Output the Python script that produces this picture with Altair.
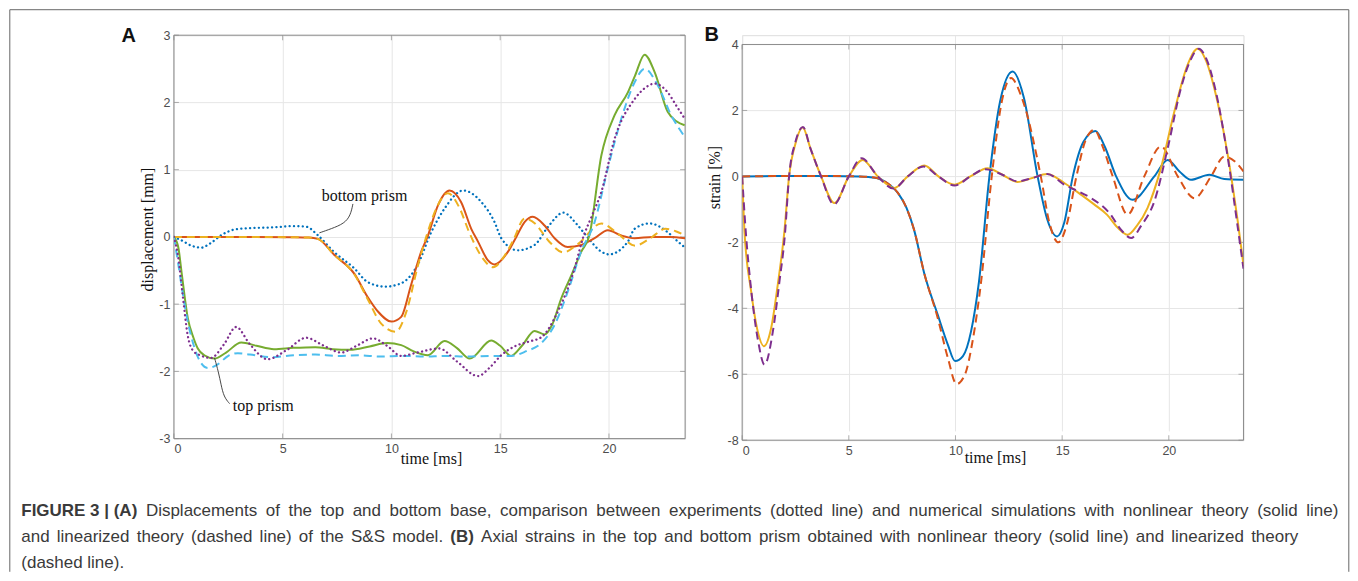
import altair as alt
import pandas as pd

# ---------------- Panel A : displacement [mm] ----------------
A_xticks = [0, 5, 10, 15, 20]
A_yticks = [-3, -2, -1, 0, 1, 2, 3]

# experiment, bottom prism (blue dotted)
A_exp_bot_t = [0, 0.4, 0.8, 1.25, 1.7, 2.2, 2.8, 3.5, 4.5, 5.5, 6.1, 6.6, 7.35, 8.3, 8.9, 9.7, 10.45, 11.2, 11.83,
               12.44, 13.3, 14.13, 14.74, 15.05, 15.8, 16.58, 17.2, 17.9, 18.57, 19.0, 19.65, 20.0, 20.87, 21.18,
               21.87, 22.7, 23.17, 23.5]
A_exp_bot_v = [0, -0.06, -0.13, -0.16, -0.09, 0.03, 0.11, 0.13, 0.14, 0.16, 0.15, 0.03, -0.22, -0.47, -0.67, -0.74,
               -0.69, -0.42, 0.07, 0.42, 0.69, 0.52, 0.22, -0.02, -0.2, -0.12, 0.15, 0.36, 0.17, 0.0, -0.22, -0.26,
               -0.07, 0.12, 0.2, 0.07, -0.07, -0.16]

# nonlinear theory, bottom prism (orange solid)
A_nl_bot_t = [0, 3, 5.5, 6.2, 6.62, 7.38, 8.3, 8.9, 9.38, 10.0, 10.45, 10.9, 11.37, 11.68, 12.14, 12.67, 13.2, 13.67,
              13.98, 14.44, 14.74, 15.36, 15.74, 16.12, 16.5, 17.04, 17.5, 18.1, 18.73, 19.34, 19.95, 20.57, 21.18,
              22.0, 22.8, 23.5]
A_nl_bot_v = [0, 0, -0.005, -0.01, -0.03, -0.27, -0.55, -0.89, -1.11, -1.26, -1.19, -0.72, -0.22, 0.02, 0.47, 0.69,
              0.52, 0.12, -0.07, -0.35, -0.41, -0.22, 0.0, 0.22, 0.3, 0.17, -0.02, -0.15, -0.12, -0.02, 0.1, 0.02,
              -0.02, 0.0, 0.0, -0.02]

# linearized theory, bottom prism (yellow dashed)
A_lin_bot_t = [0, 3, 5.5, 6.2, 6.62, 7.38, 8.3, 8.9, 9.53, 10.2, 10.7, 11.2, 11.6, 12.1, 12.6, 13.1, 13.6, 14.2,
               14.67, 15.2, 15.6, 16.12, 16.6, 17.2, 17.9, 18.6, 19.65, 20.4, 21.2, 21.9, 22.6, 23.1, 23.5]
A_lin_bot_v = [0, 0, -0.005, -0.01, -0.03, -0.27, -0.56, -0.92, -1.29, -1.41, -1.1, -0.45, 0.0, 0.45, 0.65, 0.45,
               0.05, -0.32, -0.45, -0.28, -0.05, 0.27, 0.2, -0.05, -0.23, -0.1, 0.2, 0.05, -0.13, -0.02, 0.12, 0.08,
               0.02]

# nonlinear theory, top prism (green solid)
A_nl_top_t = [0, 0.2, 0.37, 0.64, 0.9, 1.1, 1.4, 1.87, 2.4, 3.1, 3.8, 4.6, 5.5, 6.5, 7.3, 8.1, 9.0, 9.8, 10.45, 11.0,
              11.68, 12.44, 13.0, 13.6, 14.59, 15.0, 15.5, 16.0, 16.58, 17.04, 17.4, 17.8, 18.3, 18.73, 19.1, 19.65,
              20.26, 20.87, 21.2, 21.64, 22.1, 22.7, 23.1, 23.48]
A_nl_top_v = [0, -0.15, -0.57, -1.21, -1.5, -1.66, -1.76, -1.81, -1.72, -1.57, -1.62, -1.67, -1.65, -1.64, -1.67,
              -1.68, -1.63, -1.58, -1.61, -1.7, -1.76, -1.55, -1.65, -1.81, -1.54, -1.62, -1.77, -1.62, -1.40, -1.45,
              -1.3, -0.92, -0.55, -0.22, 0.02, 1.21, 1.81, 2.15, 2.4, 2.71, 2.45, 1.86, 1.72, 1.66]

# linearized theory, top prism (light blue dashed)
A_lin_top_t = [0, 0.2, 0.35, 0.6, 0.9, 1.2, 1.56, 2.0, 2.5, 2.94, 3.5, 4.5, 5.5, 6.5, 7.5, 8.5, 9.5, 10.5, 11.5, 12.5,
               13.5, 14.5, 15.5, 16.2, 16.89, 17.5, 18.1, 18.73, 19.34, 19.94, 20.57, 21.18, 21.64, 22.25, 22.86,
               23.48]
A_lin_top_v = [0, -0.4, -0.72, -1.2, -1.6, -1.85, -1.95, -1.9, -1.77, -1.73, -1.75, -1.79, -1.76, -1.75, -1.77,
               -1.76, -1.78, -1.77, -1.78, -1.77, -1.78, -1.77, -1.77, -1.7, -1.58, -1.31, -0.82, -0.21, 0.22, 1.01,
               1.76, 2.3, 2.5, 2.25, 1.81, 1.49]

# experiment, top prism (purple dotted)
A_exp_top_t = [0, 0.2, 0.4, 0.64, 0.9, 1.2, 1.7, 2.3, 2.86, 3.5, 4.3, 5.2, 6.08, 6.9, 7.69, 8.4, 9.15, 9.8, 10.45,
               11.2, 12.2, 13.0, 13.98, 14.5, 15.05, 15.65, 16.3, 16.9, 17.65, 18.42, 18.8, 19.2, 19.65, 20.26, 21.18,
               21.6, 22.1, 22.7, 23.1, 23.48]
A_exp_top_v = [0, -0.3, -0.85, -1.47, -1.7, -1.76, -1.8, -1.6, -1.34, -1.6, -1.82, -1.68, -1.5, -1.62, -1.72, -1.62,
               -1.51, -1.62, -1.77, -1.72, -1.66, -1.85, -2.07, -1.95, -1.76, -1.63, -1.56, -1.49, -1.11, -0.47, -0.02,
               0.3, 0.67, 1.46, 2.05, 2.2, 2.28, 2.15, 1.95, 1.76]

# annotation leader lines (data units)
A_lead_bottom_t = [8.23, 8.12, 7.84, 7.23, 6.69]
A_lead_bottom_v = [0.49, 0.32, 0.2, 0.12, 0.06]
A_lead_top_t = [1.87, 2.05, 2.17, 2.3, 2.56]
A_lead_top_v = [-1.80, -2.01, -2.2, -2.38, -2.48]

# ---------------- Panel B : strain [%] ----------------
B_xticks = [0, 5, 10, 15, 20]
B_yticks = [-8, -6, -4, -2, 0, 2, 4]

# nonlinear, bottom prism (blue solid)
B_nl_bot_t = [0, 2, 4, 5.5, 6.3, 6.8, 7.3, 7.7, 8.05, 8.54, 9.17, 9.64, 9.98, 10.35, 10.73, 11.1, 11.59, 12.1, 12.68,
              13.2, 13.85, 14.3, 14.76, 15.1, 15.5, 16.0, 16.56, 17.0, 17.53, 18.3, 19.32, 19.95, 20.5, 21.04, 21.9,
              22.6, 23.5]
B_nl_bot_v = [0, 0.01, 0.01, 0.0, -0.05, -0.2, -0.5, -0.95, -1.6, -2.95, -4.2, -5.1, -5.6, -5.45, -4.7, -3.2, 0.0,
              2.3, 3.18, 2.4, 0.0, -1.3, -1.82, -1.4, 0.0, 1.05, 1.38, 0.9, 0.0, -0.71, 0.0, 0.5, 0.15, -0.1, 0.05,
              -0.08, -0.1]

# linearized, bottom prism (orange dashed)
B_lin_bot_t = [0, 2, 4, 5.5, 6.3, 6.8, 7.3, 7.7, 8.05, 8.54, 9.17, 9.64, 10.05, 10.45, 10.8, 11.2, 11.7, 12.15, 12.6,
               13.1, 14.0, 14.4, 14.82, 15.2, 15.67, 16.1, 16.51, 16.9, 17.37, 18.07, 18.85, 19.63, 20.42, 21.2, 21.98,
               22.6, 23.1, 23.5]
B_lin_bot_v = [0, 0.01, 0.01, 0.0, -0.05, -0.2, -0.5, -0.95, -1.6, -2.95, -4.3, -5.5, -6.3, -6.0, -5.0, -3.2, 0.0,
               2.2, 2.98, 2.4, 0.0, -1.4, -2.0, -1.5, 0.0, 1.1, 1.41, 0.9, 0.0, -1.16, 0.0, 0.91, 0.0, -0.66, 0.0, 0.6,
               0.45, 0.15]

# nonlinear, top prism (yellow solid)
B_nl_top_t = [0, 0.11, 0.42, 0.73, 1.02, 1.36, 1.67, 1.98, 2.2, 2.5, 2.84, 3.2, 3.7, 4.33, 5.0, 5.65, 6.36, 7.14,
              7.76, 8.54, 9.2, 9.95, 10.7, 11.5, 12.2, 12.9, 13.6, 14.3, 15.1, 15.9, 16.5, 17.1, 17.6, 18.07, 18.5,
              19.0, 19.63, 20.26, 20.88, 21.35, 21.75, 22.13, 22.76, 23.23, 23.5]
B_nl_top_v = [0, -1.67, -3.48, -4.7, -5.15, -4.6, -3.28, -1.67, 0.0, 1.0, 1.48, 0.85, 0.0, -0.81, 0.0, 0.5, 0.0,
              -0.35, 0.0, 0.33, 0.0, -0.25, 0.0, 0.25, 0.05, -0.17, -0.05, 0.07, -0.2, -0.56, -0.85, -1.16, -1.55,
              -1.77, -1.5, -0.96, 0.25, 1.97, 3.38, 3.87, 3.5, 2.68, 0.66, -1.36, -2.68]

# linearized, top prism (purple dashed)
B_lin_top_t = [0, 0.15, 0.45, 0.75, 1.05, 1.44, 1.75, 2.0, 2.2, 2.5, 2.85, 3.2, 3.7, 4.3, 5.0, 5.6, 6.36, 7.1, 7.76,
               8.5, 9.2, 9.95, 10.7, 11.4, 12.2, 12.9, 13.6, 14.3, 15.1, 15.9, 16.36, 17.2, 17.8, 18.23, 18.7, 19.32,
               19.95, 20.57, 21.0, 21.4, 21.8, 22.13, 22.84, 23.2, 23.5]
B_lin_top_v = [0, -1.5, -3.6, -5.0, -5.71, -4.7, -3.18, -1.8, 0.0, 1.05, 1.5, 0.85, 0.0, -0.85, 0.0, 0.55, 0.0,
               -0.37, 0.0, 0.3, 0.0, -0.28, 0.0, 0.22, 0.05, -0.15, -0.05, 0.07, -0.25, -0.5, -0.66, -1.1, -1.65,
               -1.87, -1.5, -0.76, 0.86, 2.68, 3.5, 3.87, 3.5, 2.78, 0.25, -1.4, -2.8]

# ---------------- caption text (segments: text, bold) ----------------
caption_lines = [
    [("FIGURE 3 | (A)", True),
     ("Displacements of the top and bottom base, comparison between experiments (dotted line) and numerical simulations with nonlinear theory (solid line)", False)],
    [("and linearized theory (dashed line) of the S&S model.", False), ("(B)", True),
     ("Axial strains in the top and bottom prism obtained with nonlinear theory (solid line) and linearized theory", False)],
    [("(dashed line).", False)],
]
caption_right = [1338, 1298, None]   # right edge of each caption line (None = ragged)

# ---------------- styling ----------------
BLUE, ORANGE, YELLOW = "#0072BD", "#D95319", "#EDB120"
PURPLE, GREEN, CYAN = "#7E2F8E", "#77AC30", "#4DBEEE"
BOX = "#8c8c8c"
GRID = "#e6e6e6"
LABEL = "#4d4d4d"
SANS = "Liberation Sans"
SERIF = "Liberation Serif"
DASH = [8, 5]
DOT = [0.1, 4.3]
CAP_SIZE = 17

# page geometry (px) of plot areas
A_left, A_top, A_w, A_h = 172.7, 34.0, 511.6, 403.7
B_w, B_h, B_top_off = 501.7, 405.3, 9.3
SPACING = 741.0 - (A_left + A_w)

minus_expr = "datum.value < 0 ? '-' + abs(datum.value) : '' + datum.value"

# Arial / Liberation Sans advance widths (1/1000 em), used to lay out the caption words
W_REG = {' ': 278, '(': 333, ')': 333, '.': 278, ',': 278, '&': 667, '|': 260, 'a': 556, 'b': 556, 'c': 500,
         'd': 556, 'e': 556, 'f': 278, 'g': 556, 'h': 556, 'i': 222, 'j': 222, 'k': 500, 'l': 222, 'm': 833,
         'n': 556, 'o': 556, 'p': 556, 'q': 556, 'r': 333, 's': 500, 't': 278, 'u': 556, 'v': 500, 'w': 722,
         'x': 500, 'y': 500, 'z': 500, 'A': 667, 'B': 667, 'D': 722, 'S': 667, '3': 556}
W_BOLD = {' ': 278, '(': 333, ')': 333, '|': 280, '3': 556, 'A': 722, 'B': 722, 'E': 667, 'F': 611, 'G': 778,
          'I': 278, 'R': 722, 'U': 722}


def text_width(s, bold, size):
    tbl = W_BOLD if bold else W_REG
    return sum(tbl.get(c, 556) for c in s) * size / 1000.0


def make_axes(xticks, yticks, xtitle, xtitle_x, xtitle_y, ytitle, ytitle_x, ytitle_y):
    ax = alt.Axis(
        values=xticks, grid=True, gridColor=GRID, gridWidth=1, domain=False, ticks=False,
        labelFont=SANS, labelFontSize=12.5, labelColor=LABEL, labelPadding=4,
        labelExpr=minus_expr, title=xtitle, titleFont=SERIF, titleFontSize=16,
        titleFontWeight="normal", titleColor="#111111", titleX=xtitle_x, titleY=xtitle_y,
        titleBaseline="alphabetic", titleAlign="center")
    ay = alt.Axis(
        values=yticks, grid=True, gridColor=GRID, gridWidth=1, domain=False, ticks=False,
        labelFont=SANS, labelFontSize=12.5, labelColor=LABEL, labelPadding=4,
        labelExpr=minus_expr, title=ytitle, titleFont=SERIF, titleFontSize=16,
        titleFontWeight="normal", titleColor="#111111", titleX=ytitle_x, titleY=ytitle_y,
        titleBaseline="alphabetic", titleAlign="center", titleAngle=270)
    return ax, ay


def one_row(**kw):
    return pd.DataFrame([kw])


def series(t, v, color, dash, X, Y, width=2.0, cap="butt"):
    df = pd.DataFrame({"t": t, "v": v})
    kw = dict(color=color, strokeWidth=width, interpolate="monotone", clip=True, strokeCap=cap)
    if dash:
        kw["strokeDash"] = dash
    return alt.Chart(df).mark_line(**kw).encode(x=X("t:Q"), y=Y("v:Q"))


def frame_layers(X, Y, xticks, yticks, W, H, top):
    xt = pd.DataFrame({"t": xticks})
    yt = pd.DataFrame({"v": yticks})
    tick_kw = dict(color=BOX, thickness=1, size=5)
    return [
        alt.Chart(xt).mark_tick(orient="vertical", **tick_kw).encode(x=X("t:Q"), y=alt.value(H - 2.5)),
        alt.Chart(xt).mark_tick(orient="vertical", **tick_kw).encode(x=X("t:Q"), y=alt.value(top + 2.5)),
        alt.Chart(yt).mark_tick(orient="horizontal", **tick_kw).encode(y=Y("v:Q"), x=alt.value(2.5)),
        alt.Chart(yt).mark_tick(orient="horizontal", **tick_kw).encode(y=Y("v:Q"), x=alt.value(W - 2.5)),
        alt.Chart(one_row(a=1)).mark_rect(fillOpacity=0, stroke=BOX, strokeWidth=1).encode(
            x=alt.value(0), x2=alt.value(W), y=alt.value(top), y2=alt.value(H)),
    ]


def text_layer(txt, x, y, font=SANS, size=16, weight="normal", color="#222222", align="left",
               baseline="alphabetic"):
    return alt.Chart(one_row(s=txt)).mark_text(
        font=font, fontSize=size, fontWeight=weight, color=color, align=align, baseline=baseline
    ).encode(text="s:N", x=alt.value(x), y=alt.value(y))


# ---------------- Panel A ----------------
xsA = alt.Scale(domain=[0, 23.5], nice=False, zero=False)
ysA = alt.Scale(domain=[-3, 3], nice=False, zero=False)
axA, ayA = make_axes(A_xticks, A_yticks, "time [ms]", 257.3, 24.5, "displacement [mm]", -21, 194)


def XA(f):
    return alt.X(f, scale=xsA, axis=axA)


def YA(f):
    return alt.Y(f, scale=ysA, axis=ayA)


A_layers = frame_layers(XA, YA, A_xticks, A_yticks, A_w, A_h, 0)
A_layers += [
    series(A_exp_bot_t, A_exp_bot_v, BLUE, DOT, XA, YA, width=2.3, cap="round"),
    series(A_nl_bot_t, A_nl_bot_v, ORANGE, None, XA, YA),
    series(A_lin_bot_t, A_lin_bot_v, YELLOW, DASH, XA, YA),
    series(A_nl_top_t, A_nl_top_v, GREEN, None, XA, YA),
    series(A_lin_top_t, A_lin_top_v, CYAN, DASH, XA, YA),
    series(A_exp_top_t, A_exp_top_v, PURPLE, DOT, XA, YA, width=2.3, cap="round"),
]
for lt, lv in [(A_lead_bottom_t, A_lead_bottom_v), (A_lead_top_t, A_lead_top_v)]:
    A_layers.append(alt.Chart(pd.DataFrame({"t": lt, "v": lv, "i": range(len(lt))})).mark_line(
        color="#333333", strokeWidth=0.9, interpolate="basis").encode(
        x=XA("t:Q"), y=YA("v:Q"), order="i:Q"))
A_layers += [
    text_layer("bottom prism", 148, 166, font=SERIF, size=16, color="#111111"),
    text_layer("top prism", 59, 376, font=SERIF, size=16, color="#111111"),
    text_layer("A", -45.2, 0.5, size=20, weight="bold", color="#111111", align="center",
               baseline="middle"),
]

# figure frame (left, top, right borders)
fx0, fy0 = 8.5 - A_left, 8.5 - A_top
fx1, fy1 = 1348.5 - A_left, 571.0 - A_top
A_layers += [
    alt.Chart(one_row(a=1)).mark_rule(color="#666666", strokeWidth=1).encode(
        x=alt.value(fx0), y=alt.value(fy0), y2=alt.value(fy1)),
    alt.Chart(one_row(a=1)).mark_rule(color="#666666", strokeWidth=1).encode(
        x=alt.value(fx1), y=alt.value(fy0), y2=alt.value(fy1)),
    alt.Chart(one_row(a=1)).mark_rule(color="#666666", strokeWidth=1).encode(
        x=alt.value(fx0), x2=alt.value(fx1), y=alt.value(fy0)),
]

# caption: words laid out left-to-right, lightly justified where the original is
cap_x0 = 20.0
cap_base = [515.5, 541.5, 567.5]
for li, segs in enumerate(caption_lines):
    tokens = []
    for txt, bold in segs:
        if bold:
            tokens.append((txt, True))
        else:
            tokens += [(w, False) for w in txt.split(" ")]
    if caption_right[li] is None:
        txt = " ".join(w for w, _ in tokens)
        A_layers.append(text_layer(txt, cap_x0 - A_left, cap_base[li] - A_top, size=CAP_SIZE,
                                   color="#3a3a3a"))
        continue
    widths = [text_width(w, b, CAP_SIZE) for w, b in tokens]
    gap = (caption_right[li] - cap_x0 - sum(widths)) / (len(tokens) - 1)
    x = cap_x0
    for (w, b), wd in zip(tokens, widths):
        A_layers.append(text_layer(w, x - A_left, cap_base[li] - A_top, size=CAP_SIZE,
                                   weight="bold" if b else "normal", color="#3a3a3a"))
        x += wd + gap

panelA = alt.layer(*A_layers).properties(width=A_w, height=A_h)

# ---------------- Panel B ----------------
xsB = alt.Scale(domain=[0, 23.5], nice=False, zero=False)
ysB = alt.Scale(domain=[-8, 4], nice=False, zero=False, range=[B_h, B_top_off])
axB, ayB = make_axes(B_xticks, B_yticks, "time [ms]", 253, 22.7, "strain [%]", -23, 142)


def XB(f):
    return alt.X(f, scale=xsB, axis=axB)


def YB(f):
    return alt.Y(f, scale=ysB, axis=ayB)


B_layers = frame_layers(XB, YB, B_xticks, B_yticks, B_w, B_h, B_top_off)
B_layers += [
    series(B_nl_bot_t, B_nl_bot_v, BLUE, None, XB, YB),
    series(B_lin_bot_t, B_lin_bot_v, ORANGE, DASH, XB, YB),
    series(B_nl_top_t, B_nl_top_v, YELLOW, None, XB, YB),
    series(B_lin_top_t, B_lin_top_v, PURPLE, DASH, XB, YB),
    text_layer("B", -30.5, 0, size=20, weight="bold", color="#111111", align="center",
               baseline="middle"),
]
panelB = alt.layer(*B_layers).properties(width=B_w, height=B_h)

chart = alt.hconcat(panelA, panelB, spacing=SPACING, bounds="flush").properties(
    padding=0, autosize=alt.AutoSizeParams(type="pad")
).configure_view(stroke=None).configure(background="white")

chart.save("out.html", embed_options={"renderer": "svg", "actions": False})
